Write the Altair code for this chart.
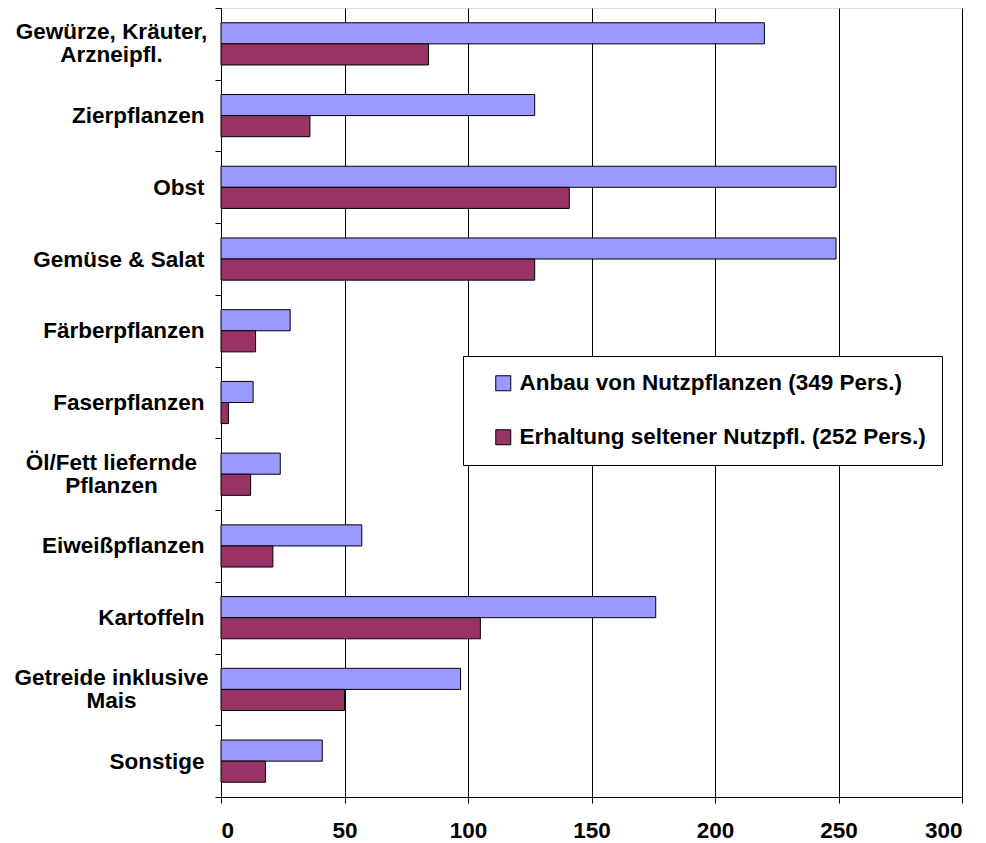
import altair as alt
import pandas as pd

categories = [
    "Gewürze, Kräuter,\nArzneipfl.",
    "Zierpflanzen",
    "Obst",
    "Gemüse & Salat",
    "Färberpflanzen",
    "Faserpflanzen",
    "Öl/Fett liefernde\nPflanzen",
    "Eiweißpflanzen",
    "Kartoffeln",
    "Getreide inklusive\nMais",
    "Sonstige",
]
series_names = [
    "Anbau von Nutzpflanzen (349 Pers.)",
    "Erhaltung seltener Nutzpfl. (252 Pers.)",
]
anbau = [220, 127, 249, 249, 28, 13, 24, 57, 176, 97, 41]
erhaltung = [84, 36, 141, 127, 14, 3, 12, 21, 105, 50, 18]
colors = ["#9999FF", "#993366"]
x_ticks = [0, 50, 100, 150, 200, 250, 300]

rows = []
for c, a, e in zip(categories, anbau, erhaltung):
    rows.append({"Kategorie": c, "Reihe": series_names[0], "Wert": a})
    rows.append({"Kategorie": c, "Reihe": series_names[1], "Wert": e})
df = pd.DataFrame(rows)

FONT = "Liberation Sans"
FS = 22.5
MULTI = "isValid(datum.value) && indexof(datum.value, '\\n') >= 0"

chart = (
    alt.Chart(df)
    .mark_bar(stroke="black", strokeWidth=1)
    .encode(
        x=alt.X(
            "Wert:Q",
            scale=alt.Scale(domain=[0, 300], nice=False, zero=True),
            axis=alt.Axis(
                title=None,
                values=x_ticks,
                grid=True,
                gridColor="#000000",
                gridWidth=1,
                domainColor="#000000",
                tickColor="#000000",
                tickSize=6,
                labelPadding=16,
                labelFontSize=FS,
                labelFontWeight="bold",
                labelFont=FONT,
                labelColor="#000000",
            ),
        ),
        y=alt.Y(
            "Kategorie:N",
            sort=categories,
            scale=alt.Scale(paddingInner=0, paddingOuter=0),
            axis=alt.Axis(
                title=None,
                tickBand="extent",
                grid=False,
                domainColor="#000000",
                tickColor="#000000",
                tickSize=6,
                labelPadding={"condition": {"test": MULTI, "value": 104}, "value": 11},
                labelAlign={"condition": {"test": MULTI, "value": "center"}, "value": "right"},
                labelOffset={"condition": {"test": MULTI, "value": -12}, "value": 0},
                labelFontSize=FS,
                labelFontWeight="bold",
                labelFont=FONT,
                labelColor="#000000",
                labelLineHeight=23,
                labelExpr="isValid(datum.value) ? split(datum.value, '\\n') : ''",
                labelLimit=400,
            ),
        ),
        yOffset=alt.YOffset(
            "Reihe:N",
            sort=series_names,
            scale=alt.Scale(paddingInner=0, paddingOuter=0.7),
        ),
        color=alt.Color(
            "Reihe:N",
            sort=series_names,
            scale=alt.Scale(domain=series_names, range=colors),
            legend=alt.Legend(
                title=None,
                orient="none",
                legendX=242,
                legendY=348,
                symbolType="square",
                symbolSize=225,
                symbolStrokeColor="#000000",
                symbolStrokeWidth=1,
                symbolOffset=13,
                labelFontSize=FS,
                labelFontWeight="bold",
                labelFont=FONT,
                labelColor="#000000",
                labelOffset=5,
                rowPadding=31,
                padding=16,
                fillColor="#FFFFFF",
                strokeColor="#000000",
                labelLimit=600,
            ),
        ),
    )
    .properties(
        width=741,
        height=789,
        autosize=alt.AutoSizeParams(type="none"),
        padding={"left": 213, "top": 0, "right": 16, "bottom": 46},
    )
    .configure_view(stroke="#808080", strokeWidth=1)
    .configure(background="#FFFFFF")
)

chart.save("out.html", embed_options={"renderer": "svg", "actions": False})
